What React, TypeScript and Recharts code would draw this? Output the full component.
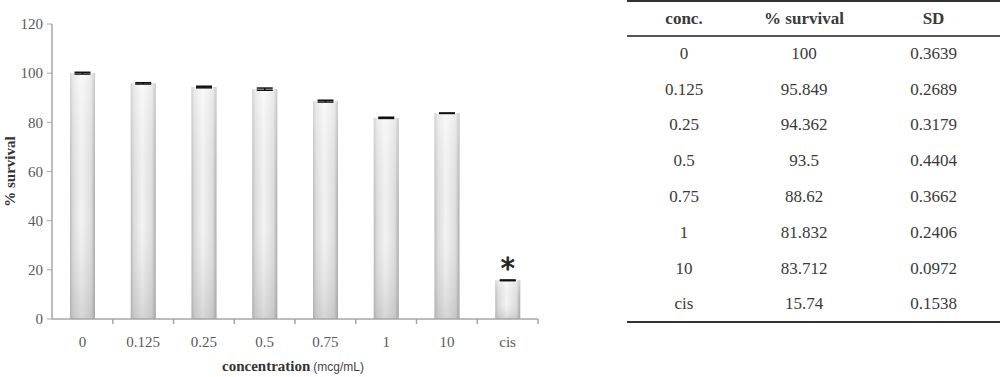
import { BarChart, Bar, XAxis, YAxis, ErrorBar, LabelList, Label } from "recharts";

const categories = ["0", "0.125", "0.25", "0.5", "0.75", "1", "10", "cis"];
const survival = [100, 95.849, 94.362, 93.5, 88.62, 81.832, 83.712, 15.74];
const sd = [0.3639, 0.2689, 0.3179, 0.4404, 0.3662, 0.2406, 0.0972, 0.1538];
const marks = ["", "", "", "", "", "", "", "*"];
const yTicks = [0, 20, 40, 60, 80, 100, 120];

const tableHead = ["conc.", "% survival", "SD"];
const tableConc = ["0", "0.125", "0.25", "0.5", "0.75", "1", "10", "cis"];
const tableSurvival = ["100", "95.849", "94.362", "93.5", "88.62", "81.832", "83.712", "15.74"];
const tableSd = ["0.3639", "0.2689", "0.3179", "0.4404", "0.3662", "0.2406", "0.0972", "0.1538"];

const data = categories.map((c, i) => ({
  label: c,
  value: survival[i],
  sd: sd[i],
  mark: marks[i],
}));

const serif = "'Liberation Serif', 'DejaVu Serif', serif";
const axisGray = "#a6a6a6";
const tickStyle = { fontSize: 15, fill: "#595959", fontFamily: serif };

function GradBar(props: any) {
  const { x, y, width, height } = props;
  if (!height || height <= 0) return null;
  return (
    <g>
      <rect x={x} y={y} width={width} height={height} fill="url(#barH)" />
      <rect x={x} y={y} width={width} height={height} fill="url(#barV)" />
    </g>
  );
}

function XTick(props: any) {
  const { x, y, payload } = props;
  const half = 30.4;
  return (
    <g>
      <line x1={x + half} x2={x + half} y1={y - 8} y2={y - 3} stroke={axisGray} strokeWidth={1.5} />
      <text x={x} y={y + 20} textAnchor="middle" {...tickStyle}>
        {payload.value}
      </text>
    </g>
  );
}

function StarLabel(props: any) {
  const { x, y, width, value } = props;
  if (!value) return null;
  return (
    <text
      x={x + width / 2}
      y={y - 2}
      textAnchor="middle"
      fontSize={28}
      fontFamily="'DejaVu Sans', sans-serif"
      fill="#222"
      stroke="#222"
      strokeWidth={0.8}
    >
      {value}
    </text>
  );
}

function XAxisTitle(props: any) {
  const { viewBox } = props;
  const cx = viewBox.x + viewBox.width / 2;
  return (
    <text x={cx - 2} y={371} textAnchor="middle">
      <tspan fontFamily={serif} fontWeight="bold" fontSize={15} fill="#333">
        concentration
      </tspan>
      <tspan fontFamily="'Liberation Sans', Arial, sans-serif" fontSize={12} fill="#444" dx={3}>
        (mcg/mL)
      </tspan>
    </text>
  );
}

function Table() {
  const cell = (w: number, bold = false) => ({
    width: w,
    textAlign: "center" as const,
    fontWeight: bold ? "bold" : "normal",
    padding: 0,
  });
  return (
    <table
      style={{
        position: "absolute",
        left: 627,
        top: 0,
        width: 373,
        borderCollapse: "collapse",
        fontFamily: serif,
        fontSize: 17,
        color: "#3a3a3a",
        borderTop: "2px solid #333",
        borderBottom: "2px solid #333",
      }}
    >
      <thead>
        <tr style={{ height: 35, borderBottom: "2px solid #555" }}>
          <th style={cell(114, true)}>{tableHead[0]}</th>
          <th style={cell(126, true)}>{tableHead[1]}</th>
          <th style={cell(133, true)}>{tableHead[2]}</th>
        </tr>
      </thead>
      <tbody>
        {tableConc.map((c, i) => (
          <tr key={c} style={{ height: 35.8 }}>
            <td style={cell(114)}>{c}</td>
            <td style={cell(126)}>{tableSurvival[i]}</td>
            <td style={cell(133)}>{tableSd[i]}</td>
          </tr>
        ))}
      </tbody>
    </table>
  );
}

export default function App() {
  return (
    <div style={{ position: "absolute", left: 0, top: 0, width: 1000, height: 377, background: "#fff" }}>
      <BarChart
        width={560}
        height={377}
        data={data}
        margin={{ left: 12, right: 22, top: 24, bottom: 28 }}
        barCategoryGap={0}
      >
        <defs>
          <linearGradient id="barH" x1="0" y1="0" x2="1" y2="0">
            <stop offset="0%" stopColor="#b8b8b8" />
            <stop offset="12%" stopColor="#dcdcdc" />
            <stop offset="45%" stopColor="#f6f6f6" />
            <stop offset="85%" stopColor="#dedede" />
            <stop offset="100%" stopColor="#a8a8a8" />
          </linearGradient>
          <linearGradient id="barV" x1="0" y1="0" x2="0" y2="1">
            <stop offset="0%" stopColor="#ffffff" stopOpacity={0.4} />
            <stop offset="60%" stopColor="#cccccc" stopOpacity={0.05} />
            <stop offset="100%" stopColor="#999999" stopOpacity={0.35} />
          </linearGradient>
        </defs>
        <XAxis
          dataKey="label"
          tick={<XTick />}
          tickLine={false}
          axisLine={{ stroke: axisGray, strokeWidth: 1.5 }}
          height={30}
          interval={0}
        >
          <Label content={<XAxisTitle />} />
        </XAxis>
        <YAxis
          domain={[0, 120]}
          ticks={yTicks}
          tick={tickStyle}
          tickSize={5}
          tickMargin={4}
          tickLine={{ stroke: axisGray }}
          axisLine={{ stroke: axisGray, strokeWidth: 1.5 }}
          width={40}
        >
          <Label
            value="% survival"
            angle={-90}
            position="insideLeft"
            offset={-2}
            style={{ fontFamily: serif, fontWeight: "bold", fontSize: 15, fill: "#333", textAnchor: "middle" }}
          />
        </YAxis>
        <Bar dataKey="value" barSize={25} shape={<GradBar />} isAnimationActive={false}>
          <ErrorBar dataKey="sd" width={8} stroke="#111" strokeWidth={1.5} />
          <LabelList dataKey="mark" content={<StarLabel />} />
        </Bar>
      </BarChart>
      <Table />
    </div>
  );
}
